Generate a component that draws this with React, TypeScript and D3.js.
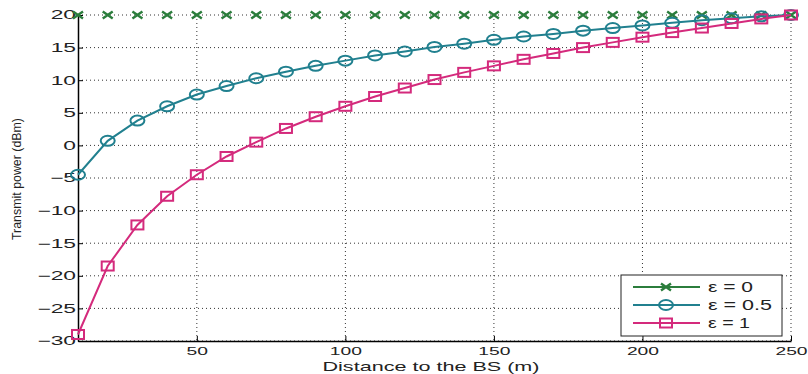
import React, { useEffect, useRef } from "react";
import * as d3 from "d3";

const distances = [10, 20, 30, 40, 50, 60, 70, 80, 90, 100, 110, 120, 130, 140, 150, 160, 170, 180, 190, 200, 210, 220, 230, 240, 250];
const eps0 = [20, 20, 20, 20, 20, 20, 20, 20, 20, 20, 20, 20, 20, 20, 20, 20, 20, 20, 20, 20, 20, 20, 20, 20, 20];
const eps05 = [-4.5, 0.7, 3.8, 6.0, 7.8, 9.1, 10.3, 11.3, 12.2, 13.0, 13.8, 14.4, 15.1, 15.6, 16.2, 16.7, 17.1, 17.6, 18.0, 18.4, 18.8, 19.2, 19.5, 19.8, 20];
const eps1 = [-29, -18.5, -12.2, -7.8, -4.5, -1.7, 0.5, 2.6, 4.4, 6.0, 7.5, 8.8, 10.1, 11.2, 12.2, 13.2, 14.1, 15.0, 15.8, 16.6, 17.3, 18.0, 18.7, 19.4, 20];
const xTicks = [50, 100, 150, 200, 250];
const yTicks = [-30, -25, -20, -15, -10, -5, 0, 5, 10, 15, 20];
const seriesNames = ["ε = 0", "ε = 0.5", "ε = 1"];
const seriesColors = ["#2b7d3c", "#21808f", "#d42a7c"];
const seriesMarkers = ["x", "o", "s"];

// the picture is stretched sideways, so text gets widened by a factor
const stretch = (sel: any, factor: number) => {
  sel.each(function (this: SVGTextElement) {
    const len = this.getComputedTextLength();
    d3.select(this).attr("textLength", len * factor).attr("lengthAdjust", "spacingAndGlyphs");
  });
};

export default function App() {
  const ref = useRef<SVGSVGElement>(null);

  useEffect(() => {
    const width = 808, height = 374;
    const margin = { top: 15, right: 17, bottom: 33, left: 78 };
    const innerWidth = width - margin.left - margin.right;
    const innerHeight = height - margin.top - margin.bottom;

    const svg = d3.select(ref.current).attr("width", width).attr("height", height);
    svg.selectAll("*").remove();
    svg.append("rect").attr("width", width).attr("height", height).attr("fill", "#fff");
    const g = svg.append("g").attr("transform", `translate(${margin.left},${margin.top})`);

    const x = d3.scaleLinear().domain([10, 250]).range([0, innerWidth]);
    const y = d3.scaleLinear().domain([-30, 20]).range([innerHeight, 0]);

    // grid
    g.selectAll(".gx").data(xTicks).join("line").attr("class", "gx")
      .attr("x1", d => x(d)).attr("x2", d => x(d)).attr("y1", 0).attr("y2", innerHeight)
      .attr("stroke", "#333").attr("stroke-width", 1).attr("stroke-dasharray", "1,3");
    g.selectAll(".gy").data(yTicks).join("line").attr("class", "gy")
      .attr("x1", 0).attr("x2", innerWidth).attr("y1", d => y(d)).attr("y2", d => y(d))
      .attr("stroke", "#333").attr("stroke-width", 1).attr("stroke-dasharray", "1,3");

    // axes
    const font = "Liberation Sans, Arial, sans-serif";
    const xAxis = g.append("g").attr("transform", `translate(0,${innerHeight})`)
      .call(d3.axisBottom(x).tickValues(xTicks).tickSizeInner(-5).tickSizeOuter(0).tickPadding(6));
    const yAxis = g.append("g")
      .call(d3.axisLeft(y).tickValues(yTicks).tickSizeInner(-5).tickSizeOuter(0).tickPadding(2));
    [xAxis, yAxis].forEach(a => {
      a.select(".domain").attr("stroke", "#000").attr("stroke-width", 1.5);
      a.selectAll("text").attr("font-family", font).attr("fill", "#222");
    });
    xAxis.selectAll("text").attr("font-size", 11);
    yAxis.selectAll("text").attr("font-size", 12);
    stretch(xAxis.selectAll("text"), 1.75);
    stretch(yAxis.selectAll("text"), 1.9);

    g.append("text").attr("x", 431 - margin.left).attr("y", 371 - margin.top)
      .attr("text-anchor", "middle").attr("font-family", font).attr("font-size", 13).attr("fill", "#222")
      .attr("textLength", 217).attr("lengthAdjust", "spacingAndGlyphs")
      .text("Distance to the BS (m)");
    g.append("text").attr("transform", "rotate(-90)")
      .attr("x", -(179 - margin.top)).attr("y", 21 - margin.left)
      .attr("text-anchor", "middle").attr("font-family", font).attr("font-size", 12.5).attr("fill", "#222")
      .attr("textLength", 122).attr("lengthAdjust", "spacingAndGlyphs")
      .text("Transmit power (dBm)");

    const drawMarker = (sel: any, kind: string, color: string, cx: number, cy: number) => {
      if (kind === "x") {
        sel.append("path").attr("d", `M${cx - 5},${cy - 3.5}L${cx + 5},${cy + 3.5}M${cx - 5},${cy + 3.5}L${cx + 5},${cy - 3.5}`)
          .attr("stroke", color).attr("stroke-width", 2.4).attr("fill", "none");
      } else if (kind === "o") {
        sel.append("ellipse").attr("cx", cx).attr("cy", cy).attr("rx", 7).attr("ry", 5)
          .attr("stroke", color).attr("stroke-width", 2).attr("fill", "none");
      } else {
        sel.append("rect").attr("x", cx - 6).attr("y", cy - 4.5).attr("width", 12).attr("height", 9)
          .attr("stroke", color).attr("stroke-width", 2).attr("fill", "none");
      }
    };

    const seriesData = [eps0, eps05, eps1];
    const line = d3.line<number>().x((d, i) => x(distances[i])).y(d => y(d));
    seriesData.forEach((vals, k) => {
      const sg = g.append("g");
      if (k > 0) {
        sg.append("path").datum(vals).attr("d", line).attr("fill", "none")
          .attr("stroke", seriesColors[k]).attr("stroke-width", 2);
      }
      vals.forEach((v, i) => drawMarker(sg, seriesMarkers[k], seriesColors[k], x(distances[i]), y(v)));
    });

    // legend
    const lx = 621 - margin.left, ly = 275 - margin.top;
    const legendWidths = [45, 64, 42];
    const lg = g.append("g").attr("transform", `translate(${lx},${ly})`);
    lg.append("rect").attr("width", 161).attr("height", 61).attr("fill", "#fff")
      .attr("stroke", "#222").attr("stroke-width", 1);
    seriesNames.forEach((name, k) => {
      const yy = 12 + k * 18;
      lg.append("line").attr("x1", 12).attr("x2", 79).attr("y1", yy).attr("y2", yy)
        .attr("stroke", seriesColors[k]).attr("stroke-width", 2);
      drawMarker(lg, seriesMarkers[k], seriesColors[k], 45, yy);
      lg.append("text").attr("x", 87).attr("y", yy + 5).attr("font-family", font).attr("font-size", 14)
        .attr("fill", "#222").attr("textLength", legendWidths[k]).attr("lengthAdjust", "spacingAndGlyphs")
        .text(name);
    });
  }, []);

  return (
    <div style={{ position: "absolute", left: 0, top: 0 }}>
      <svg ref={ref} style={{ display: "block" }} />
    </div>
  );
}
